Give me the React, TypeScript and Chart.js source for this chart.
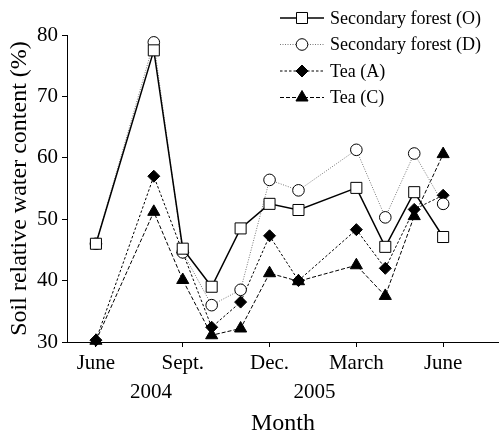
import React, { useEffect, useRef } from "react";
import { Chart, registerables } from "chart.js";
import { drawPoint } from "chart.js/helpers";

Chart.register(...registerables);

// Sampling months, counted from June 2004 (0) to June 2005 (12)
const sampleMonths = [0, 2, 3, 4, 5, 6, 7, 9, 10, 11, 12];

// Soil relative water content (%)
const forestO = [46.0, 77.5, 45.2, 39.0, 48.5, 52.5, 51.5, 55.1, 45.5, 54.4, 47.1];
const forestD = [46.0, 78.8, 44.6, 36.0, 38.5, 56.4, 54.7, 61.3, 50.3, 60.7, 52.5];
const teaA = [30.3, 57.0, 44.6, 32.4, 36.5, 47.3, 40.0, 48.3, 42.0, 51.6, 53.9];
const teaC = [30.2, 51.2, 40.1, 31.1, 32.2, 41.2, 39.9, 42.5, 37.5, 50.5, 60.6];

const seriesNames = ["Secondary forest (O)", "Secondary forest (D)", "Tea (A)", "Tea (C)"];

// x-axis tick months and labels
const tickMonths = [0, 3, 6, 9, 12];
const tickLabels = ["June", "Sept.", "Dec.", "March", "June"];

// Year captions under the month labels
const yearLabels = ["2004", "2005"];
const yearMonths = [1.9, 7.55];

const FONT = "'Liberation Serif', 'Times New Roman', Times, serif";

const toPoints = (ys: number[]) => ys.map((y, i) => ({ x: sampleMonths[i], y }));

const extrasPlugin = {
  id: "extras",
  afterDraw(chart: any) {
    const ctx = chart.ctx as CanvasRenderingContext2D;
    const xs = chart.scales.x;

    // year captions
    ctx.save();
    ctx.fillStyle = "#000";
    ctx.font = `21px ${FONT}`;
    ctx.textAlign = "center";
    ctx.textBaseline = "middle";
    yearLabels.forEach((label, i) => {
      ctx.fillText(label, xs.getPixelForValue(yearMonths[i]), 392);
    });
    ctx.restore();

    // legend: line sample with marker, then label
    const x0 = 280;
    const x1 = 324;
    const xm = 302;
    const top = 18;
    const gap = 26.5;
    chart.data.datasets.forEach((ds: any, i: number) => {
      const y = top + i * gap;
      ctx.save();
      ctx.strokeStyle = ds.borderColor;
      ctx.lineWidth = ds.borderWidth;
      ctx.setLineDash(ds.borderDash || []);
      ctx.beginPath();
      ctx.moveTo(x0, y);
      ctx.lineTo(x1, y);
      ctx.stroke();
      ctx.setLineDash([]);
      ctx.fillStyle = ds.pointBackgroundColor;
      ctx.strokeStyle = ds.pointBorderColor;
      ctx.lineWidth = ds.pointBorderWidth;
      drawPoint(
        ctx,
        { pointStyle: ds.pointStyle, radius: ds.pointRadius, rotation: 0, borderWidth: ds.pointBorderWidth },
        xm,
        y
      );
      ctx.fillStyle = "#000";
      ctx.font = `18px ${FONT}`;
      ctx.textAlign = "left";
      ctx.textBaseline = "middle";
      ctx.fillText(ds.label, 330, y + 1);
      ctx.restore();
    });
  },
};

export default function App() {
  const canvasRef = useRef<HTMLCanvasElement | null>(null);

  useEffect(() => {
    if (!canvasRef.current) return;
    const common = { clip: false as const, tension: 0 };
    const chart = new Chart(canvasRef.current, {
      type: "line",
      data: {
        datasets: [
          {
            ...common,
            label: seriesNames[0],
            data: toPoints(forestO),
            borderColor: "#000",
            borderWidth: 1.5,
            pointStyle: "rect",
            pointRadius: 7.8,
            pointBackgroundColor: "#fff",
            pointBorderColor: "#000",
            pointBorderWidth: 1,
          },
          {
            ...common,
            label: seriesNames[1],
            data: toPoints(forestD),
            borderColor: "#777",
            borderWidth: 1,
            borderDash: [1, 1.5],
            pointStyle: "circle",
            pointRadius: 5.8,
            pointBackgroundColor: "#fff",
            pointBorderColor: "#000",
            pointBorderWidth: 1,
          },
          {
            ...common,
            label: seriesNames[2],
            data: toPoints(teaA),
            borderColor: "#000",
            borderWidth: 1,
            borderDash: [2.5, 2],
            pointStyle: "rectRot",
            pointRadius: 6,
            pointBackgroundColor: "#000",
            pointBorderColor: "#000",
            pointBorderWidth: 1,
          },
          {
            ...common,
            label: seriesNames[3],
            data: toPoints(teaC),
            borderColor: "#000",
            borderWidth: 1,
            borderDash: [4, 2],
            pointStyle: "triangle",
            pointRadius: 7,
            pointBackgroundColor: "#000",
            pointBorderColor: "#000",
            pointBorderWidth: 1,
          },
        ],
      },
      options: {
        animation: false,
        responsive: true,
        maintainAspectRatio: false,
        layout: { autoPadding: false, padding: { top: 35, right: 0, left: 0, bottom: 0 } },
        plugins: {
          legend: { display: false },
          tooltip: { enabled: false },
        },
        scales: {
          x: {
            type: "linear",
            min: -1.0,
            max: 13.93,
            afterBuildTicks: (scale: any) => {
              scale.ticks = tickMonths.map((v) => ({ value: v }));
            },
            afterFit: (scale: any) => {
              scale.height = 90;
            },
            grid: {
              display: true,
              drawOnChartArea: false,
              drawTicks: true,
              tickLength: 5,
              color: "#000",
            },
            border: { display: true, color: "#000", width: 1 },
            ticks: {
              autoSkip: false,
              maxRotation: 0,
              padding: 4,
              color: "#000",
              font: { family: FONT, size: 21 },
              callback: (value: any) => {
                const idx = tickMonths.indexOf(Number(value));
                return idx >= 0 ? tickLabels[idx] : "";
              },
            },
            title: {
              display: true,
              text: "Month",
              color: "#000",
              font: { family: FONT, size: 24, lineHeight: 1 },
              padding: { top: 0, bottom: -4 },
            },
          },
          y: {
            min: 30,
            max: 80,
            afterFit: (scale: any) => {
              scale.width = 67;
            },
            grid: {
              display: true,
              drawOnChartArea: false,
              drawTicks: true,
              tickLength: 5,
              color: "#000",
            },
            border: { display: true, color: "#000", width: 1 },
            ticks: {
              stepSize: 10,
              padding: 4,
              color: "#000",
              font: { family: FONT, size: 21 },
            },
            title: {
              display: true,
              text: "Soil relative water content (%)",
              color: "#000",
              font: { family: FONT, size: 24, lineHeight: 1 },
              padding: { top: 8, bottom: 0 },
            },
          },
        },
      },
      plugins: [extrasPlugin],
    });
    return () => chart.destroy();
  }, []);

  return (
    <div style={{ position: "absolute", left: 0, top: 0, width: 499, height: 432, background: "#fff" }}>
      <canvas ref={canvasRef} />
    </div>
  );
}
